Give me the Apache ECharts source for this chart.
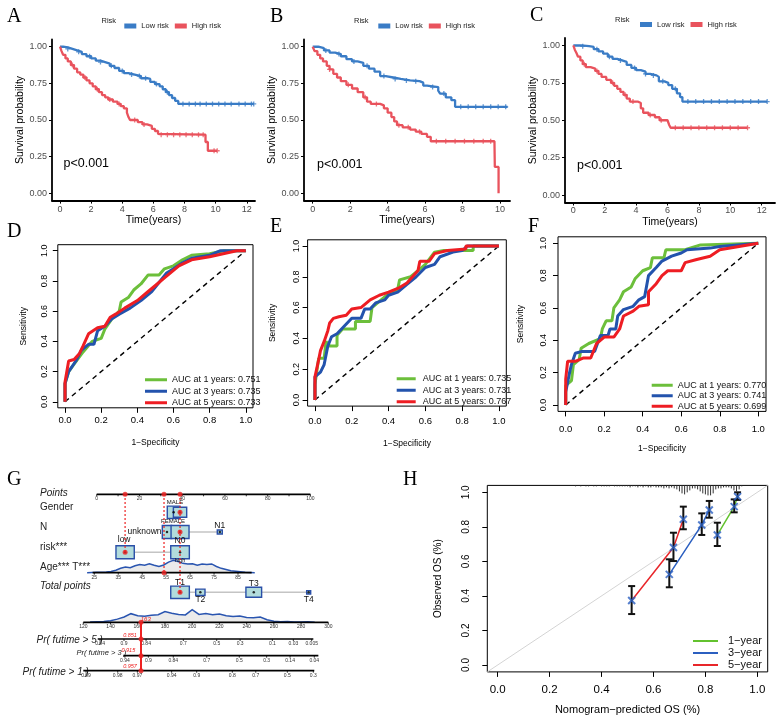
<!DOCTYPE html>
<html>
<head>
<meta charset="UTF-8">
<title>Survival, ROC, nomogram and calibration</title>
<style>
  html, body { margin: 0; padding: 0; background: #fff; }
  #chart { width: 778px; height: 723px; }
</style>
<script src="https://cdn.jsdelivr.net/npm/echarts@6.0.0/dist/echarts.min.js"></script>
</head>
<body>
<div id="chart"></div>
<script>
// ---------------- data ----------------
// Kaplan-Meier curves: [time (years), survival] at each drop
const kmALow = [[0,1],[0.2,0.995],[0.5,0.985],[0.8,0.975],[1.1,0.965],[1.4,0.95],[1.7,0.935],[2.0,0.92],[2.3,0.905],[2.6,0.895],[2.9,0.885],[3.2,0.87],[3.5,0.855],[3.8,0.835],[4.1,0.82],[4.4,0.81],[4.8,0.8],[5.2,0.785],[5.6,0.78],[5.8,0.76],[6.1,0.745],[6.4,0.73],[6.6,0.71],[6.8,0.69],[7.0,0.67],[7.2,0.65],[7.4,0.63],[7.6,0.61],[12.45,0.61]];
const kmAHigh = [[0,1],[0.1,0.97],[0.2,0.945],[0.35,0.92],[0.5,0.9],[0.7,0.875],[0.9,0.85],[1.1,0.825],[1.3,0.81],[1.5,0.79],[1.7,0.77],[1.9,0.75],[2.1,0.73],[2.3,0.71],[2.5,0.69],[2.7,0.67],[2.9,0.655],[3.1,0.64],[3.4,0.625],[3.7,0.61],[3.9,0.595],[4.1,0.58],[4.3,0.55],[4.4,0.52],[4.5,0.5],[5.0,0.485],[5.3,0.47],[5.6,0.46],[5.9,0.44],[6.1,0.425],[6.3,0.405],[6.4,0.4],[9.35,0.35],[9.5,0.29],[10.1,0.29]];
const kmBLow = [[0,1],[0.3,0.99],[0.6,0.975],[0.9,0.96],[1.2,0.95],[1.5,0.935],[1.8,0.915],[2.1,0.9],[2.4,0.89],[2.7,0.87],[3.0,0.85],[3.3,0.83],[3.6,0.8],[3.9,0.79],[4.3,0.78],[4.7,0.77],[5.2,0.765],[5.7,0.755],[5.9,0.735],[6.1,0.725],[6.7,0.7],[6.8,0.68],[7.1,0.655],[7.4,0.635],[7.6,0.59],[10.4,0.59]];
const kmBHigh = [[0,1],[0.1,0.97],[0.25,0.945],[0.4,0.92],[0.55,0.9],[0.75,0.87],[0.9,0.845],[1.1,0.815],[1.3,0.79],[1.5,0.765],[1.8,0.74],[2.1,0.715],[2.4,0.69],[2.7,0.655],[2.9,0.625],[3.1,0.61],[3.6,0.6],[3.8,0.58],[4.0,0.55],[4.2,0.52],[4.35,0.49],[4.5,0.465],[4.8,0.45],[5.2,0.435],[5.5,0.42],[5.8,0.405],[6.1,0.385],[6.3,0.355],[9.7,0.355],[9.72,0.18],[9.92,0.0]];
const kmCLow = [[0,1],[0.5,0.995],[1.0,0.99],[1.3,0.975],[1.6,0.96],[1.9,0.945],[2.2,0.925],[2.5,0.91],[2.8,0.9],[3.1,0.89],[3.4,0.87],[3.7,0.85],[4.0,0.835],[4.3,0.825],[4.6,0.81],[4.9,0.8],[5.3,0.79],[5.45,0.76],[5.8,0.75],[6.05,0.735],[6.3,0.71],[6.6,0.68],[6.8,0.655],[6.95,0.625],[12.35,0.625]];
const kmCHigh = [[0,1],[0.1,0.97],[0.2,0.95],[0.3,0.925],[0.45,0.9],[0.6,0.875],[0.8,0.855],[1.1,0.845],[1.4,0.83],[1.6,0.81],[1.8,0.79],[2.1,0.77],[2.4,0.75],[2.6,0.73],[2.8,0.71],[3.0,0.69],[3.2,0.67],[3.4,0.645],[3.6,0.625],[4.1,0.615],[4.3,0.58],[4.45,0.55],[4.8,0.535],[5.2,0.52],[5.5,0.5],[6.0,0.49],[6.1,0.47],[6.2,0.45],[11.1,0.45]];
// censoring times
const censALow = [0.5,1.2,1.9,2.6,3.3,4.0,4.6,5.1,5.5,6.2,6.9,7.9,8.3,8.7,9.0,9.4,9.8,10.2,10.6,11.0,11.5,11.9,12.3,12.45];
const censAHigh = [0.8,1.6,2.4,3.2,3.8,4.8,5.4,6.5,6.9,7.3,7.7,8.1,8.5,8.9,9.2,9.9,10.1];
const censBLow = [0.7,1.4,2.2,2.9,3.8,4.4,5.0,5.5,6.4,7.0,7.9,8.3,8.7,9.1,9.5,9.9,10.3];
const censBHigh = [0.9,1.9,2.8,3.4,4.6,5.1,5.7,6.6,7.1,7.6,8.1,8.6,9.1,9.5];
const censCLow = [0.6,1.5,2.3,3.0,3.9,4.6,5.1,5.7,6.5,7.3,7.8,8.3,8.8,9.3,9.8,10.3,10.8,11.3,11.8,12.35];
const censCHigh = [0.7,1.5,2.5,3.3,3.8,4.9,5.6,6.5,7.0,7.5,8.0,8.5,9.0,9.5,10.0,10.5,11.1];
const timeTicks12 = [0,2,4,6,8,10,12];
const timeTicks10 = [0,2,4,6,8,10];
const survTicks = [0,0.25,0.5,0.75,1];

// ROC curves: [1-specificity, sensitivity]
const rocD1 = [[0,0],[0,0.12],[0.02,0.2],[0.05,0.25],[0.1,0.33],[0.15,0.4],[0.2,0.42],[0.22,0.48],[0.26,0.55],[0.3,0.6],[0.31,0.66],[0.35,0.69],[0.38,0.74],[0.42,0.78],[0.46,0.84],[0.52,0.84],[0.55,0.88],[0.6,0.9],[0.65,0.94],[0.7,0.97],[0.8,0.98],[0.88,1],[1,1]];
const rocD3 = [[0,0],[0,0.12],[0.02,0.2],[0.06,0.27],[0.09,0.34],[0.13,0.38],[0.16,0.38],[0.18,0.47],[0.22,0.5],[0.26,0.55],[0.3,0.58],[0.36,0.62],[0.42,0.67],[0.48,0.73],[0.52,0.79],[0.56,0.85],[0.6,0.88],[0.65,0.92],[0.7,0.95],[0.8,0.97],[0.86,1],[1,1]];
const rocD5 = [[0,0],[0,0.13],[0.02,0.27],[0.05,0.28],[0.08,0.32],[0.1,0.37],[0.13,0.45],[0.18,0.49],[0.22,0.5],[0.25,0.56],[0.28,0.58],[0.33,0.62],[0.4,0.67],[0.46,0.73],[0.5,0.77],[0.55,0.82],[0.6,0.87],[0.63,0.9],[0.7,0.94],[0.8,0.96],[0.95,1],[1,1]];
const rocE1 = [[0,0],[0,0.1],[0.02,0.27],[0.05,0.27],[0.06,0.38],[0.08,0.35],[0.12,0.35],[0.12,0.42],[0.15,0.46],[0.22,0.46],[0.22,0.51],[0.3,0.51],[0.31,0.6],[0.35,0.64],[0.4,0.69],[0.45,0.72],[0.46,0.78],[0.52,0.8],[0.57,0.85],[0.6,0.88],[0.65,0.96],[0.7,0.97],[0.86,0.97],[0.86,1],[1,1]];
const rocE3 = [[0,0],[0,0.15],[0.03,0.18],[0.05,0.23],[0.07,0.35],[0.09,0.41],[0.12,0.43],[0.16,0.48],[0.2,0.53],[0.25,0.53],[0.27,0.59],[0.3,0.59],[0.33,0.63],[0.38,0.65],[0.4,0.68],[0.45,0.7],[0.5,0.75],[0.55,0.8],[0.6,0.86],[0.65,0.88],[0.68,0.93],[0.75,0.96],[0.8,0.97],[0.83,1],[1,1]];
const rocE5 = [[0,0],[0,0.15],[0.02,0.26],[0.03,0.32],[0.05,0.38],[0.07,0.45],[0.08,0.5],[0.1,0.53],[0.13,0.54],[0.17,0.55],[0.2,0.59],[0.25,0.6],[0.3,0.65],[0.35,0.68],[0.4,0.7],[0.46,0.73],[0.5,0.76],[0.56,0.84],[0.57,0.9],[0.62,0.9],[0.65,0.95],[0.72,0.97],[0.82,0.98],[0.82,1],[1,1]];
const rocF1 = [[0,0],[0,0.12],[0.03,0.15],[0.04,0.25],[0.07,0.28],[0.08,0.35],[0.12,0.38],[0.18,0.41],[0.19,0.47],[0.21,0.52],[0.24,0.52],[0.25,0.6],[0.28,0.65],[0.3,0.7],[0.34,0.73],[0.36,0.78],[0.4,0.83],[0.44,0.85],[0.45,0.91],[0.51,0.91],[0.52,0.96],[0.62,0.96],[0.7,0.99],[0.71,1],[1,1]];
const rocF3 = [[0,0],[0,0.08],[0.02,0.2],[0.03,0.25],[0.05,0.32],[0.08,0.33],[0.15,0.33],[0.18,0.43],[0.22,0.43],[0.23,0.47],[0.26,0.47],[0.27,0.55],[0.3,0.59],[0.35,0.61],[0.38,0.65],[0.41,0.67],[0.43,0.8],[0.47,0.85],[0.5,0.89],[0.55,0.92],[0.6,0.94],[0.63,0.96],[0.75,0.97],[0.8,0.98],[1,1]];
const rocF5 = [[0,0],[0,0.16],[0.01,0.27],[0.05,0.27],[0.09,0.29],[0.13,0.29],[0.16,0.38],[0.2,0.42],[0.25,0.42],[0.28,0.47],[0.3,0.55],[0.35,0.58],[0.38,0.61],[0.43,0.62],[0.43,0.7],[0.47,0.75],[0.5,0.8],[0.53,0.83],[0.6,0.83],[0.62,0.88],[0.68,0.9],[0.75,0.92],[0.8,0.96],[0.9,0.98],[1,1]];
const aucD = ['0.751','0.735','0.733'];
const aucE = ['0.735','0.731','0.767'];
const aucF = ['0.770','0.741','0.699'];
const rocTicks = [0,0.2,0.4,0.6,0.8,1];
const chanceLine = [[0,0],[1,1]];

// nomogram
const pointsTicks = [0,10,20,30,40,50,60,70,80,90,100];
const pointsLabels = ['0','','20','','40','','60','','80','','100'];
const genderLevels = ['MALE','FEMALE'];
const genderPts = [36.0, 39.0];
const nLevels = ['unknown','N0','N1'];
const nPts = [32.9, 39.0, 57.6];
const riskLevels = ['low','high'];
const riskPts = [13.3, 39.0];
const tLevels = ['T1','T2','T3','T4'];
const tPts = [39.0, 48.5, 73.5, 99.2];
const ageTicks = [25,35,45,55,65,75,85];
const ageRange = [24.3, 90.7];
const ageDensX = [22,24,26,28,30,32,34,36,38,40,42,44,46,48,50,52,54,56,58,60,62,64,66,68,70,72,74,76,78,80,82,84,86,88,90,92];
const ageDens = [0,0.02,0.03,0.04,0.06,0.1,0.2,0.35,0.45,0.4,0.55,0.65,0.6,0.72,0.6,0.5,0.62,0.85,1.0,0.9,0.75,0.7,0.72,0.6,0.7,0.65,0.7,0.5,0.35,0.25,0.15,0.12,0.08,0.04,0.02,0];
const totalTicks = [120,140,160,180,200,220,240,260,280,300];
const tpDensX = [125,130,135,140,145,150,155,160,165,170,175,180,185,190,195,200,205,210,215,220,225,230,235,240,245,250,255,260,265,270,275,280,285,290];
const tpDens = [0.02,0.04,0.06,0.12,0.25,0.42,0.68,0.52,0.48,0.55,0.6,0.85,0.72,0.62,0.58,1.0,0.62,0.7,0.6,0.66,0.52,0.45,0.5,0.38,0.35,0.42,0.2,0.08,0.05,0.06,0.03,0.03,0.04,0.01];
const pr5Labels = ['0.94','0.9','0.84','0.7','0.5','0.3','0.1','0.03','0.005'];
const pr5At = [132.3,149.9,166.1,193.5,218,235.2,258.9,274.3,287.8];
const pr5Range = [130.6, 289.0];
const pr3Labels = ['0.94','0.9','0.84','0.7','0.5','0.3','0.14','0.04'];
const pr3At = [150.6,167.8,186.1,210.7,234.6,254.7,271.9,289.7];
const pr3Range = [149.4, 292.7];
const pr1Labels = ['0.99','0.98','0.97','0.94','0.9','0.8','0.7','0.5','0.3'];
const pr1At = [122,145.3,159.7,184.9,203.3,229.5,246.7,269.9,289];
const pr1Range = [120, 289.7];
// example patient
const patientPts = {gender: 39.0, n: 39.0, risk: 13.3, age: 31.5, t: 39.0};
const patientTotal = 162.4;
const patientTotalLabel = '163';
const patientProb = {pr5: '0.851', pr3: '0.915', pr1: '0.957'};

// calibration
const cal1Pred = [0.846, 0.911, 0.924], cal1Obs = [0.753, 0.917, 0.975], cal1Lo = [0.689, 0.884, 0.956], cal1Hi = [0.824, 0.959, 1.0];
const cal3Pred = [0.661, 0.786, 0.815], cal3Obs = [0.525, 0.811, 0.898], cal3Lo = [0.45, 0.753, 0.853], cal3Hi = [0.612, 0.878, 0.95];
const cal5Pred = [0.516, 0.677, 0.715], cal5Obs = [0.373, 0.68, 0.844], cal5Lo = [0.295, 0.602, 0.786], cal5Hi = [0.457, 0.766, 0.917];
const rugX = [0.30,0.31,0.32,0.33,0.34,0.35,0.36,0.37,0.38,0.39,0.40,0.41,0.42,0.43,0.44,0.45,0.46,0.47,0.48,0.49,0.50,0.51,0.52,0.53,0.54,0.55,0.56,0.57,0.58,0.59,0.60,0.61,0.62,0.63,0.64,0.65,0.66,0.67,0.68,0.69,0.70,0.71,0.72,0.73,0.74,0.75,0.76,0.77,0.78,0.79,0.80,0.81,0.82,0.83,0.84,0.85,0.86,0.87,0.88,0.89,0.90,0.91,0.92,0.93,0.94];
const rugH = [1,0,1,0,1,1,0,1,1,0,1,1,1,1,0,1,1,1,1,1,1,2,1,1,2,1,2,1,2,2,1,2,2,2,3,2,3,2,3,4,6,8,9,7,5,3,3,4,6,8,9,10,10,8,4,3,3,2,2,2,3,5,6,4,1];
const calTicks = [0,0.2,0.4,0.6,0.8,1];
const calDiag = [[-0.04,-0.04],[1.04,1.04]];

// ---------------- styles ----------------
const FONT = '"Liberation Sans", Arial, sans-serif';
const SERIF = '"Liberation Serif", "Times New Roman", serif';
const KM_BLUE = '#3a7cc6', KM_RED = '#e9535d';
const ROC_GREEN = '#6cbf3b', ROC_BLUE = '#2353ad', ROC_RED = '#ee1d23';
const CAL_GREEN = '#63c22f', CAL_BLUE = '#2b5fc0', CAL_RED = '#e8262a';

const chart = echarts.init(document.getElementById('chart'));

// grid index: 0 A, 1 B, 2 C, 3 D, 4 E, 5 F, 6 G, 7 H
const grids = [
  {left: 52, top: 39.4, width: 203, height: 161.2},
  {left: 304, top: 39.4, width: 206, height: 161.2},
  {left: 565, top: 38, width: 210, height: 164.5},
  {left: 57.8, top: 244.7, width: 195.2, height: 163.1, show: true, borderColor: '#000', borderWidth: 1},
  {left: 307.6, top: 239.8, width: 198.7, height: 166.3, show: true, borderColor: '#000', borderWidth: 1},
  {left: 558, top: 236.8, width: 208, height: 174.6, show: true, borderColor: '#000', borderWidth: 1},
  {left: 0, top: 460, width: 400, height: 263},
  {left: 487.3, top: 485.4, width: 280.4, height: 186.5, show: true, borderColor: '#000', borderWidth: 1}
].map(g => Object.assign({outerBoundsMode: 'none', containLabel: false}, g));

const xAxes = [], yAxes = [];

function kmAxes(gi, min, max, ticks) {
  const line = {show: true, onZero: false, lineStyle: {color: '#000', width: 1.8}};
  xAxes.push({type: 'value', gridIndex: gi, min: min, max: max,
    name: 'Time(years)', nameLocation: 'middle', nameGap: 11,
    nameTextStyle: {fontSize: 10.5, color: '#000', fontFamily: FONT},
    axisLine: line, axisTick: {show: true, customValues: ticks, length: 3, lineStyle: {color: '#000'}},
    axisLabel: {customValues: ticks, margin: 4, fontSize: 9, color: '#4d4d4d'},
    splitLine: {show: false}});
  yAxes.push({type: 'value', gridIndex: gi, min: -0.05, max: 1.05,
    name: 'Survival probability', nameLocation: 'middle', nameGap: 24,
    nameTextStyle: {fontSize: 10.5, color: '#000', fontFamily: FONT},
    axisLine: line, axisTick: {show: true, customValues: survTicks, length: 3, lineStyle: {color: '#000'}},
    axisLabel: {customValues: survTicks, formatter: v => v.toFixed(2), margin: 5, fontSize: 9, color: '#4d4d4d'},
    splitLine: {show: false}});
}
kmAxes(0, -0.514, 12.53, timeTicks12);
kmAxes(1, -0.464, 10.53, timeTicks10);
kmAxes(2, -0.53, 12.85, timeTicks12);

function boxAxes(gi, ticks, xName, yName, o) {
  xAxes.push({type: 'value', gridIndex: gi, min: -0.04, max: 1.04,
    name: xName, nameLocation: 'middle', nameGap: o.xGap,
    nameTextStyle: {fontSize: o.nameSize, color: '#000', fontFamily: FONT},
    axisLine: {show: false, onZero: false},
    axisTick: {show: true, customValues: ticks, length: 5, lineStyle: {color: '#000'}},
    axisLabel: {customValues: ticks, formatter: v => v.toFixed(1), margin: o.xMargin, fontSize: o.xSize, color: '#000'},
    splitLine: {show: false}});
  yAxes.push({type: 'value', gridIndex: gi, min: -0.04, max: 1.04,
    name: yName, nameLocation: 'middle', nameGap: o.yGap,
    nameTextStyle: {fontSize: o.nameSize, color: '#000', fontFamily: FONT},
    axisLine: {show: false, onZero: false},
    axisTick: {show: true, customValues: ticks, length: 5, lineStyle: {color: '#000'}},
    axisLabel: {customValues: ticks, formatter: v => v.toFixed(1), rotate: 90, margin: o.yMargin, fontSize: o.ySize, color: '#000'},
    splitLine: {show: false}});
}
boxAxes(3, rocTicks, '1\u2212Specificity', 'Sensitivity', {xGap: 30, yGap: 30, xMargin: 8, yMargin: 9, nameSize: 8.5, xSize: 9.5, ySize: 9});
boxAxes(4, rocTicks, '1\u2212Specificity', 'Sensitivity', {xGap: 33, yGap: 30, xMargin: 10, yMargin: 7, nameSize: 8.5, xSize: 9.5, ySize: 9});
boxAxes(5, rocTicks, '1\u2212Specificity', 'Sensitivity', {xGap: 33, yGap: 33, xMargin: 13, yMargin: 10, nameSize: 8.5, xSize: 9.5, ySize: 9});
// nomogram: x in "Points" units, y in pixels from top of panel
xAxes.push({type: 'value', gridIndex: 6, min: -45.25, max: 141.93, show: false});
yAxes.push({type: 'value', gridIndex: 6, min: 0, max: 263, inverse: true, show: false});
boxAxes(7, calTicks, 'Nomogram\u2212predicted OS (%)', 'Observed OS (%)', {xGap: 33, yGap: 44, xMargin: 12, yMargin: 16, nameSize: 11, xSize: 11.5, ySize: 10});
yAxes[7].nameTextStyle.fontSize = 10;

const series = [];

// ---------- KM ----------
function survAt(curve, t) {
  let s = curve[0][1];
  for (const p of curve) { if (p[0] <= t) s = p[1]; else break; }
  return s;
}
function kmSeries(gi, curve, cens, name, color) {
  series.push({type: 'line', name: name, xAxisIndex: gi, yAxisIndex: gi, data: curve, step: 'end',
    showSymbol: false, symbol: 'none', lineStyle: {color: color, width: 2.3}, itemStyle: {color: color}, z: 3});
  series.push({type: 'scatter', name: name, xAxisIndex: gi, yAxisIndex: gi,
    data: cens.map(t => [t, survAt(curve, t)]),
    symbol: 'path://M5,0L5,10M0,5L10,5', symbolSize: 5,
    itemStyle: {color: color, borderColor: color, borderWidth: 1.3}, z: 4});
}
kmSeries(0, kmALow, censALow, 'Low risk', KM_BLUE);
kmSeries(0, kmAHigh, censAHigh, 'High risk', KM_RED);
kmSeries(1, kmBLow, censBLow, 'Low risk', KM_BLUE);
kmSeries(1, kmBHigh, censBHigh, 'High risk', KM_RED);
kmSeries(2, kmCLow, censCLow, 'Low risk', KM_BLUE);
kmSeries(2, kmCHigh, censCHigh, 'High risk', KM_RED);

// ---------- ROC ----------
function rocSeries(gi, curves, aucs) {
  const cols = [ROC_GREEN, ROC_BLUE, ROC_RED];
  const yrs = [1, 3, 5];
  curves.forEach((c, i) => {
    series.push({type: 'line', name: 'AUC at ' + yrs[i] + ' years: ' + aucs[i], xAxisIndex: gi, yAxisIndex: gi,
      data: c, showSymbol: false, symbol: 'none', lineStyle: {color: cols[i], width: 3}, itemStyle: {color: cols[i]}, z: 3});
  });
  series.push({type: 'line', xAxisIndex: gi, yAxisIndex: gi, data: chanceLine, showSymbol: false, symbol: 'none',
    lineStyle: {color: '#000', width: 1.4, type: [5, 4]}, z: 2, silent: true});
}
rocSeries(3, [rocD1, rocD3, rocD5], aucD);
rocSeries(4, [rocE1, rocE3, rocE5], aucE);
rocSeries(5, [rocF1, rocF3, rocF5], aucF);

// ---------- nomogram ----------
const rowY = {points: 34.3, gender: 52.3, n: 72, risk: 92.3, age: 112.7, t: 132.3, total: 162.3, pr5: 179, pr3: 195.7, pr1: 210.7};
function tpToPts(tp) { return -6.27 + (tp - 120) * 0.63694; }
function ageToPts(a) { return -1.12 + (a - 25) * 1.1207; }
const NG = {xAxisIndex: 6, yAxisIndex: 6, silent: true};

function densitySeries(xs, hs, toPts, baseY, scale) {
  series.push(Object.assign({type: 'custom', data: [[0, 0]], z: 2,
    renderItem: function (params, api) {
      const pts = xs.map((x, i) => api.coord([toPts(x), baseY - hs[i] * scale]));
      const a = api.coord([toPts(xs[0]), baseY]);
      const b = api.coord([toPts(xs[xs.length - 1]), baseY]);
      return {type: 'group', children: [
        {type: 'polygon', shape: {points: [a].concat(pts, [b])}, style: {fill: '#ebebeb', stroke: 'none'}},
        {type: 'polyline', shape: {points: pts}, style: {fill: 'none', stroke: '#2a55b0', lineWidth: 1.5}}
      ]};
    }}, NG));
}
densitySeries(ageDensX, ageDens, ageToPts, rowY.age, 12.5);
densitySeries(tpDensX, tpDens, tpToPts, rowY.total, 12.7);

function connector(ptsArr, y) {
  series.push(Object.assign({type: 'line', data: [[Math.min.apply(null, ptsArr), y], [Math.max.apply(null, ptsArr), y]],
    symbol: 'none', lineStyle: {color: '#c4c4c4', width: 1.5}, z: 3}, NG));
}
connector(genderPts, rowY.gender);
connector(nPts, rowY.n);
connector(riskPts, rowY.risk);
connector(tPts, rowY.t);

function nomoAxis(from, to, y, tickX, labels, fs) {
  series.push(Object.assign({type: 'line', data: [[from, y], [to, y]], symbol: 'none',
    lineStyle: {color: '#000', width: 1.7}, z: 3}, NG));
  series.push(Object.assign({type: 'custom', data: tickX.map(x => [x, y]), z: 3,
    renderItem: function (params, api) {
      const c = api.coord([api.value(0), api.value(1)]);
      return {type: 'group', children: [
        {type: 'line', shape: {x1: c[0], y1: c[1], x2: c[0], y2: c[1] + 2}, style: {stroke: '#000', lineWidth: 0.8}},
        {type: 'text', style: {text: labels[params.dataIndex], x: c[0], y: c[1] + 2, align: 'center', verticalAlign: 'top',
          font: fs + 'px ' + FONT, fill: '#333'}}
      ]};
    }}, NG));
}
nomoAxis(0, 100, rowY.points, pointsTicks, pointsLabels, 5);
nomoAxis(ageToPts(ageRange[0]), ageToPts(ageRange[1]), rowY.age, ageTicks.map(ageToPts), ageTicks.map(String), 5);
nomoAxis(tpToPts(120), tpToPts(300), rowY.total, totalTicks.map(tpToPts), totalTicks.map(String), 5);
nomoAxis(tpToPts(pr5Range[0]), tpToPts(pr5Range[1]), rowY.pr5, pr5At.map(tpToPts), pr5Labels, 5);
nomoAxis(tpToPts(pr3Range[0]), tpToPts(pr3Range[1]), rowY.pr3, pr3At.map(tpToPts), pr3Labels, 5);
nomoAxis(tpToPts(pr1Range[0]), tpToPts(pr1Range[1]), rowY.pr1, pr1At.map(tpToPts), pr1Labels, 5);

// box sizes (px) per level
const boxSize = {
  MALE: [12.7, 12.3], FEMALE: [13.3, 10], unknown: [9.4, 13], N0: [18, 13], N1: [5, 4],
  low: [18.3, 13], high: [18.6, 13], T1: [18.6, 12.3], T2: [9.3, 6.4], T3: [15.7, 10], T4: [4, 3.3]
};
const boxRows = [[genderLevels, genderPts, rowY.gender], [nLevels, nPts, rowY.n], [riskLevels, riskPts, rowY.risk], [tLevels, tPts, rowY.t]];
const boxData = [];
boxRows.forEach(r => r[0].forEach((lv, i) => boxData.push([r[1][i], r[2], boxSize[lv][0], boxSize[lv][1]])));
series.push(Object.assign({type: 'custom', data: boxData, z: 4,
  renderItem: function (params, api) {
    const c = api.coord([api.value(0), api.value(1)]);
    const w = api.value(2), h = api.value(3);
    return {type: 'rect', shape: {x: c[0] - w / 2, y: c[1] - h / 2, width: w, height: h},
      style: {fill: '#b2dcdc', stroke: '#2a4fa8', lineWidth: 1.4}};
  }}, NG));
series.push(Object.assign({type: 'scatter', data: boxData.map(d => [d[0], d[1]]), symbolSize: 2.5,
  itemStyle: {color: '#000'}, z: 5}, NG));

// level labels: [dx, dy, font size, align]
const labelStyle = {
  MALE: [1.4, -10, 6, 'center'], FEMALE: [-7, 8.7, 6, 'center'], unknown: [-5.5, 0, 8.5, 'right'],
  N0: [0, 9, 8.5, 'center'], N1: [0, -6.5, 8.5, 'center'], low: [-1, -12.3, 8.5, 'center'], high: [0, 8.5, 5.5, 'center'],
  T1: [0, -9.8, 8.5, 'center'], T2: [0, 7.3, 8.5, 'center'], T3: [0, -8.6, 8.5, 'center'], T4: [0, 7.3, 8.5, 'center']
};
const labelItems = [];
boxRows.forEach(r => r[0].forEach((lv, i) => labelItems.push({name: lv, x: r[1][i], y: r[2]})));
series.push(Object.assign({type: 'custom', data: labelItems.map(l => [l.x, l.y]), z: 6,
  renderItem: function (params, api) {
    const l = labelItems[params.dataIndex], s = labelStyle[l.name];
    const c = api.coord([api.value(0), api.value(1)]);
    return {type: 'text', style: {text: l.name, x: c[0] + s[0], y: c[1] + s[1], align: s[3], verticalAlign: 'middle',
      font: s[2] + 'px ' + FONT, fill: '#111'}};
  }}, NG));

// patient trace
const dottedTargets = [[patientPts.risk, rowY.risk], [patientPts.age, rowY.age], [patientPts.t, rowY.t]];
dottedTargets.forEach(d => {
  series.push(Object.assign({type: 'line', data: [[d[0], rowY.points], [d[0], d[1]]], symbol: 'none',
    lineStyle: {color: '#ee2222', width: 1.6, type: [1.5, 2.5]}, z: 6}, NG));
});
const tpX = tpToPts(patientTotal);
series.push(Object.assign({type: 'line', data: [[tpX, rowY.total], [tpX, rowY.pr1]], symbol: 'none',
  lineStyle: {color: '#ee2222', width: 2}, z: 6}, NG));
const redDots = [
  [patientPts.risk, rowY.points], [patientPts.age, rowY.points], [patientPts.t, rowY.points],
  [patientPts.gender, rowY.gender], [patientPts.n, rowY.n], [patientPts.risk, rowY.risk],
  [patientPts.age, rowY.age], [patientPts.t, rowY.t],
  [tpX, rowY.total], [tpX, rowY.pr5], [tpX, rowY.pr3], [tpX, rowY.pr1]
];
series.push(Object.assign({type: 'scatter', data: redDots, symbolSize: 5, itemStyle: {color: '#ee2222'}, z: 7}, NG));
const redTexts = [[patientTotalLabel, rowY.total, 4.7, -3, 6], [patientProb.pr5, rowY.pr5, -11, -4, 5.5],
  [patientProb.pr3, rowY.pr3, -12.7, -5, 5.5], [patientProb.pr1, rowY.pr1, -11, -4, 5.5]];
series.push(Object.assign({type: 'custom', data: redTexts.map(t => [tpX, t[1]]), z: 7,
  renderItem: function (params, api) {
    const t = redTexts[params.dataIndex];
    const c = api.coord([api.value(0), api.value(1)]);
    return {type: 'text', style: {text: t[0], x: c[0] + t[2], y: c[1] + t[3], align: 'center', verticalAlign: 'middle',
      font: 'italic ' + t[4] + 'px ' + FONT, fill: '#ee2222'}};
  }}, NG));

// ---------- calibration ----------
series.push({type: 'line', xAxisIndex: 7, yAxisIndex: 7, data: calDiag, symbol: 'none', silent: true,
  lineStyle: {color: '#d4d4d4', width: 1}, z: 2});
series.push({type: 'custom', xAxisIndex: 7, yAxisIndex: 7, silent: true, z: 3,
  data: rugX.map((x, i) => [x, rugH[i]]),
  renderItem: function (params, api) {
    const c = api.coord([api.value(0), 1.04]);
    const h = api.value(1);
    return {type: 'line', shape: {x1: c[0], y1: c[1], x2: c[0], y2: c[1] + h}, style: {stroke: '#333', lineWidth: 1}};
  }});
const calSets = [['1\u2212year', cal1Pred, cal1Obs, cal1Lo, cal1Hi, CAL_GREEN],
                 ['3\u2212year', cal3Pred, cal3Obs, cal3Lo, cal3Hi, CAL_BLUE],
                 ['5\u2212year', cal5Pred, cal5Obs, cal5Lo, cal5Hi, CAL_RED]];
calSets.forEach(s => {
  series.push({type: 'line', name: s[0], xAxisIndex: 7, yAxisIndex: 7, data: s[1].map((p, i) => [p, s[2][i]]),
    showSymbol: false, symbol: 'none', lineStyle: {color: s[5], width: 1.5}, itemStyle: {color: s[5]}, z: 3});
});
calSets.forEach(s => {
  series.push({type: 'custom', xAxisIndex: 7, yAxisIndex: 7, silent: true, z: 4,
    data: s[1].map((p, i) => [p, s[3][i], s[4][i]]),
    renderItem: function (params, api) {
      const lo = api.coord([api.value(0), api.value(1)]), hi = api.coord([api.value(0), api.value(2)]);
      const st = {stroke: '#111', lineWidth: 2};
      return {type: 'group', children: [
        {type: 'line', shape: {x1: lo[0], y1: lo[1], x2: hi[0], y2: hi[1]}, style: st},
        {type: 'line', shape: {x1: lo[0] - 3.5, y1: lo[1], x2: lo[0] + 3.5, y2: lo[1]}, style: st},
        {type: 'line', shape: {x1: hi[0] - 3.5, y1: hi[1], x2: hi[0] + 3.5, y2: hi[1]}, style: st}
      ]};
    }});
  series.push({type: 'scatter', xAxisIndex: 7, yAxisIndex: 7, silent: true, z: 5,
    data: s[1].map((p, i) => [p, s[2][i]]), symbol: 'path://M0,0L10,10M10,0L0,10', symbolSize: 7,
    itemStyle: {color: 'rgba(120,190,230,0.6)', borderColor: CAL_BLUE, borderWidth: 2}});
});

// ---------- legends ----------
function kmLegend(left, top) {
  return {data: ['Low risk', 'High risk'], left: left, top: top, orient: 'horizontal', icon: 'rect',
    itemWidth: 12, itemHeight: 5, itemGap: 6, selectedMode: false,
    textStyle: {fontSize: 7.5, color: '#222', fontFamily: FONT, lineHeight: 10}};
}
function boxLegend(names, left, top, w, h, fs, lh, pad) {
  return {data: names, left: left, top: top, orient: 'vertical', icon: 'rect', itemWidth: w, itemHeight: h,
    itemGap: 0, selectedMode: false, textStyle: {fontSize: fs, lineHeight: lh, color: '#111', fontFamily: FONT, padding: [0, 0, 0, pad]}};
}
const aucNames = aucs => aucs.map((a, i) => 'AUC at ' + [1, 3, 5][i] + ' years: ' + a);

// ---------- text ----------
const txt = (text, x, y, font, extra) => ({type: 'text', silent: true,
  style: Object.assign({text: text, x: x, y: y, font: font, fill: '#000', align: 'left', verticalAlign: 'middle'}, extra || {})});
const letterFont = '20px ' + SERIF;
const graphics = [
  txt('A', 7, 16.5, letterFont), txt('B', 270, 16.5, letterFont), txt('C', 530, 15.5, letterFont),
  txt('D', 7, 231.5, letterFont), txt('E', 270, 226.5, letterFont), txt('F', 528, 226.5, letterFont),
  txt('G', 7, 480, letterFont), txt('H', 403, 480, letterFont),
  txt('Risk', 101.5, 21, '7.5px ' + FONT, {fill: '#222'}), txt('Risk', 354, 21, '7.5px ' + FONT, {fill: '#222'}),
  txt('Risk', 615, 19.5, '7.5px ' + FONT, {fill: '#222'}),
  txt('p<0.001', 63.5, 164, '12.5px ' + FONT), txt('p<0.001', 317, 165, '12.5px ' + FONT), txt('p<0.001', 577, 166, '12.5px ' + FONT),
  txt('Points', 40, 493.5, 'italic 10px ' + FONT, {fill: '#222'}),
  txt('Gender', 40, 507, '10px ' + FONT, {fill: '#222'}),
  txt('N', 40, 527, '10px ' + FONT, {fill: '#222'}),
  txt('risk***', 40, 547.5, '10px ' + FONT, {fill: '#222'}),
  txt('Age*** T***', 40, 567, '10px ' + FONT, {fill: '#222'}),
  txt('Total points', 40, 586.5, 'italic 10px ' + FONT, {fill: '#222'}),
  txt('Pr( futime > 5 )', 36.5, 640, 'italic 10px ' + FONT, {fill: '#222'}),
  txt('Pr( futime > 3 )', 76.5, 653, 'italic 7.5px ' + FONT, {fill: '#222'}),
  txt('Pr( futime > 1 )', 22.5, 672, 'italic 10px ' + FONT, {fill: '#222'})
];

chart.setOption({
  animation: false,
  backgroundColor: '#fff',
  textStyle: {fontFamily: FONT},
  grid: grids,
  xAxis: xAxes,
  yAxis: yAxes,
  legend: [
    kmLegend(119.3, 16), kmLegend(373.3, 16), kmLegend(635, 14.5),
    boxLegend(aucNames(aucD), 140, 369, 22, 3, 9, 11.5, 0),
    boxLegend(aucNames(aucE), 391.7, 368, 19, 3, 9, 11.5, 2),
    boxLegend(aucNames(aucF), 646.7, 375, 21, 3, 9, 10.5, 0),
    boxLegend(['1\u2212year', '3\u2212year', '5\u2212year'], 688, 630, 25, 2, 11, 12, 5)
  ],
  graphic: graphics,
  series: series
});
</script>
</body>
</html>
